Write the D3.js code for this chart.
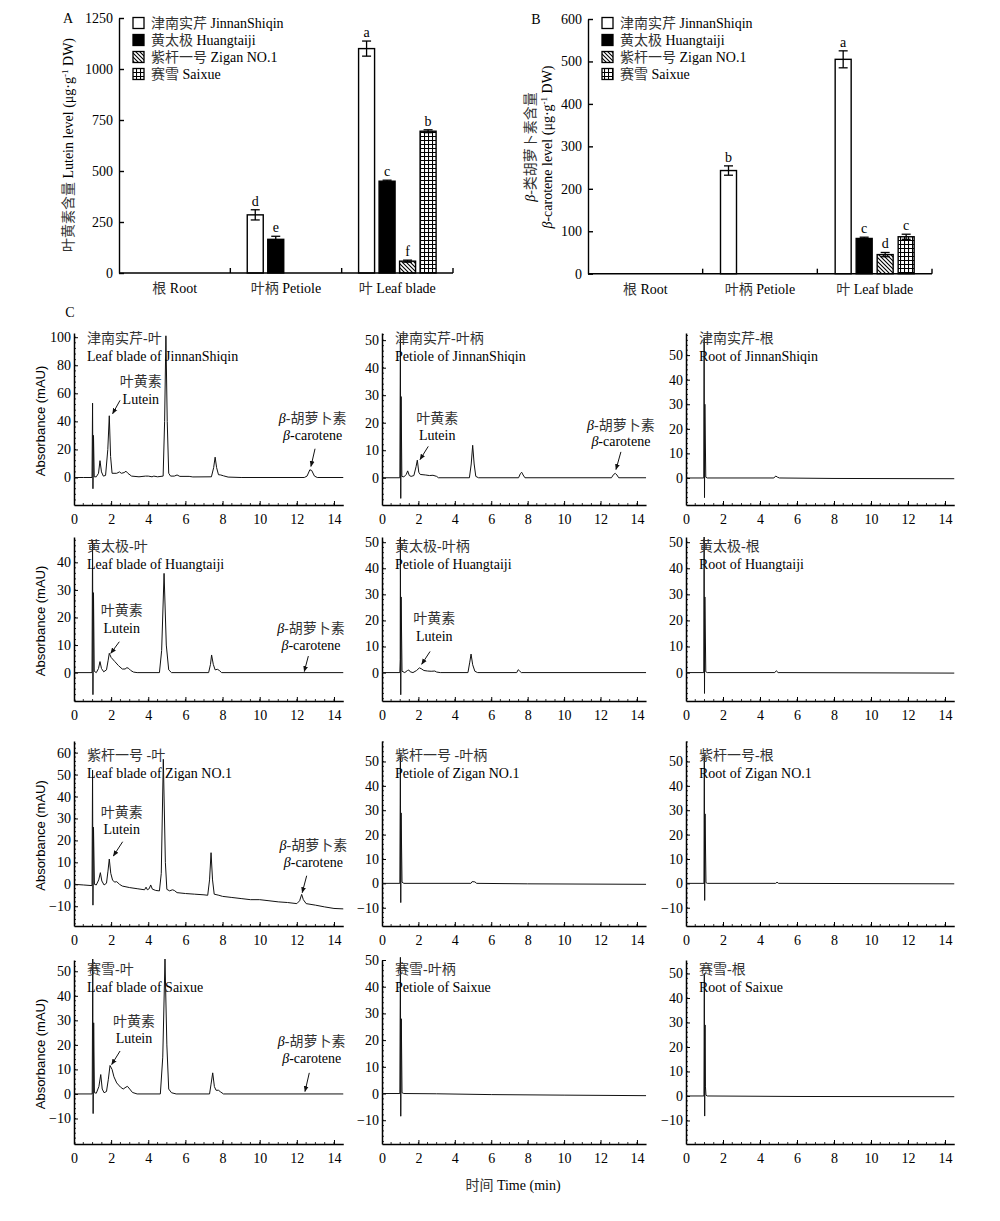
<!DOCTYPE html>
<html><head><meta charset="utf-8">
<script src="https://cdn.jsdelivr.net/npm/d3@7"></script>
<style>body{margin:0;background:#fff} svg{display:block}</style>
</head><body><svg id="c" width="1000" height="1221"></svg>
<script>
// ---------------- DATA ----------------
const catCN = ["根", "叶柄", "叶"];
const catEN = ["Root", "Petiole", "Leaf blade"];
const cvCN = ["津南实芹", "黄太极", "紫杆一号", "赛雪"];
const cvEN = ["JinnanShiqin", "Huangtaiji", "Zigan NO.1", "Saixue"];

// Panel A: lutein (µg/g DW) per cultivar over [Root, Petiole, Leaf blade]
const luteinJinnan = [0, 285, 1100];
const luteinHuang  = [0, 165, 450];
const luteinZigan  = [0, 0, 58];
const luteinSaixue = [0, 0, 695];
const luteinErrJinnan = [0, 25, 37];
const luteinErrHuang  = [0, 15, 5];
const luteinErrZigan  = [0, 0, 5];
const luteinErrSaixue = [0, 0, 7];
const luteinLetters = [["", "d", "a"], ["", "e", "c"], ["", "", "f"], ["", "", "b"]];
const luteinTicks = [0, 250, 500, 750, 1000, 1250];

// Panel B: beta-carotene
const caroteneJinnan = [0, 243, 505];
const caroteneHuang  = [0, 0, 83];
const caroteneZigan  = [0, 0, 45];
const caroteneSaixue = [0, 0, 87];
const caroteneErrJinnan = [0, 11, 20];
const caroteneErrHuang  = [0, 0, 3];
const caroteneErrZigan  = [0, 0, 5];
const caroteneErrSaixue = [0, 0, 6];
const caroteneLetters = [["", "b", "a"], ["", "", "c"], ["", "", "d"], ["", "", "c"]];
const caroteneTicks = [0, 100, 200, 300, 400, 500, 600];

// Panel C: chromatogram traces [time (min), absorbance (mAU)]
const traceJL = [[0,0],[0.5,0],[0.97,0],[1.0,53],[1.02,-8],[1.05,30],[1.09,0.5],[1.2,0.5],[1.32,3],[1.4,12],[1.48,4],[1.58,1],[1.7,1.5],[1.82,20],[1.9,44],[1.97,15],[2.05,3],[2.3,3],[2.45,4],[2.55,3],[2.7,3.5],[2.8,4.5],[2.9,3],[3.1,1],[3.5,0.5],[3.85,1],[4.0,1],[4.2,0.5],[4.3,1],[4.5,0.5],[4.8,1],[4.88,40],[4.95,101],[5.02,40],[5.1,3],[5.2,1],[5.4,1],[5.55,1.8],[5.7,0.8],[6.2,0.8],[6.4,0.4],[7.4,0.5],[7.52,7],[7.6,14.5],[7.68,7],[7.78,2],[7.9,1.8],[8.05,1.2],[8.3,0.3],[9,0],[12.4,0],[12.55,1],[12.7,5.5],[12.8,5],[12.95,1],[13.1,0],[14.5,0]];
const traceJP = [[0,0],[0.98,0],[1.01,52],[1.03,-7.5],[1.05,29.5],[1.09,0.5],[1.2,0.3],[1.33,1.2],[1.41,2.5],[1.5,0.8],[1.6,0.5],[1.75,0.8],[1.87,4],[1.94,6.4],[2.02,2],[2.1,1.2],[2.4,1],[2.6,0.8],[2.8,0.9],[3.0,0.5],[3.1,0],[4.8,0],[4.9,5],[4.98,11.8],[5.06,5],[5.15,0.5],[5.3,0],[7.5,0],[7.6,1.5],[7.67,2],[7.75,1],[7.85,0],[12.6,0],[12.72,1.2],[12.81,1.6],[12.9,1],[13.0,0],[14.5,0]];
const traceJR = [[0,0],[0.96,0],[0.98,57],[1.0,-8],[1.02,30],[1.07,0.3],[1.15,0],[4.75,0],[4.85,0.8],[4.95,0.3],[5.05,0],[8,-0.2],[14.5,-0.3]];
const traceHL = [[0,0],[0.97,0],[1.0,48],[1.02,-8],[1.05,29],[1.09,0.5],[1.2,0],[1.32,1.5],[1.4,4],[1.48,1.5],[1.6,0.3],[1.75,1],[1.84,4.5],[1.9,7],[2.0,5.5],[2.2,4],[2.4,2.5],[2.6,1.3],[2.75,1.3],[2.85,1.8],[2.95,1.5],[3.05,0.8],[3.2,0.2],[3.4,0],[4.6,0],[4.72,8],[4.85,36],[4.97,10],[5.1,1],[5.25,0],[7.25,0],[7.35,3],[7.41,6.4],[7.5,3],[7.6,1],[7.72,1.2],[7.82,0.8],[7.95,0],[14.5,0]];
const traceHP = [[0,0],[0.98,0],[1.0,5],[1.01,52],[1.03,-8.5],[1.05,29],[1.1,0.5],[1.25,0],[1.4,0.8],[1.47,1],[1.55,0.3],[1.7,0],[1.9,0.8],[2.05,1.8],[2.15,1.5],[2.3,0.8],[2.5,0.6],[2.7,0.5],[2.9,0.6],[3.0,0.2],[3.2,0],[4.72,0],[4.82,4],[4.89,7.1],[4.98,3],[5.1,0.5],[5.25,0],[7.4,0],[7.48,1.1],[7.56,0.6],[7.65,0],[14.5,0]];
const traceHR = [[0,0],[0.96,0],[0.98,52],[1.0,-8],[1.02,29],[1.07,0.3],[1.15,0],[4.8,0],[4.88,0.7],[4.98,0],[14.5,-0.2]];
const traceZL = [[0,0],[0.5,-0.3],[0.97,-0.6],[1.0,52],[1.02,-9.5],[1.05,26],[1.1,0],[1.2,-0.3],[1.33,2],[1.42,5.3],[1.5,1.5],[1.62,-0.3],[1.75,0.5],[1.83,6],[1.9,11.5],[1.98,5],[2.08,1.8],[2.2,1],[2.3,1.2],[2.45,0],[2.6,-0.8],[3.0,-1.5],[3.4,-2],[3.8,-2.5],[3.88,-1.3],[3.95,-2.5],[4.05,-2],[4.13,-0.3],[4.22,-2.2],[4.4,-2.8],[4.6,-3],[4.7,5],[4.81,57],[4.92,10],[5.0,-2.3],[5.15,-3],[5.3,-2.5],[5.4,-2.8],[5.55,-3.8],[6.0,-4.2],[6.5,-4.5],[7.0,-4.8],[7.2,-5],[7.3,2],[7.38,14.4],[7.46,2],[7.55,-4.5],[7.7,-4.8],[7.8,-5],[8.0,-5.5],[8.5,-6],[9.0,-6.5],[9.5,-7],[10.0,-7],[10.5,-7.5],[11.0,-8],[11.5,-8.3],[12.0,-8.8],[12.15,-7.5],[12.26,-4.6],[12.35,-7],[12.5,-8.8],[13.0,-9.5],[13.5,-10.3],[14.0,-11],[14.5,-11.2]];
const traceZP = [[0,0],[0.98,0],[1.01,52],[1.03,-7.9],[1.05,28.9],[1.1,0.5],[1.2,0],[4.88,0],[4.95,0.7],[5.1,0.6],[5.2,0],[8,-0.2],[14.5,-0.4]];
const traceZR = [[0,0],[0.97,0],[0.99,52],[1.01,-7],[1.03,28.5],[1.08,0.3],[1.15,0],[4.85,0],[4.92,0.5],[5.0,0],[14.5,-0.2]];
const traceSL = [[0,0],[0.98,0],[1.01,55],[1.03,-8],[1.06,29],[1.1,0.5],[1.2,0.3],[1.34,3],[1.44,7.9],[1.52,2],[1.62,0.5],[1.75,1],[1.85,6],[1.94,11.6],[2.05,10],[2.15,7],[2.3,4.5],[2.5,2.8],[2.65,2],[2.8,2.8],[2.88,3.1],[3.0,2],[3.15,0.6],[3.4,0],[4.65,0],[4.78,15],[4.9,55],[5.0,20],[5.1,2],[5.25,0.5],[5.5,0],[7.3,0],[7.38,4],[7.47,8.6],[7.56,3],[7.65,1.5],[7.78,1.5],[7.9,0.8],[8.05,0],[14.5,0]];
const traceSP = [[0,0],[0.98,0],[1.01,51],[1.03,-8.5],[1.06,28],[1.1,0.3],[1.2,0],[3,-0.1],[6,-0.4],[10,-0.6],[14.5,-0.8]];
const traceSR = [[0,0],[0.97,0],[0.99,50],[1.01,-8.2],[1.03,29],[1.05,4],[1.08,0.3],[1.15,0],[6,-0.2],[14.5,-0.3]];

const chromTitlesCN = [["津南实芹-叶","津南实芹-叶柄","津南实芹-根"],["黄太极-叶","黄太极-叶柄","黄太极-根"],["紫杆一号 -叶","紫杆一号 -叶柄","紫杆一号-根"],["赛雪-叶","赛雪-叶柄","赛雪-根"]];
const chromTitlesEN = [["Leaf blade of JinnanShiqin","Petiole of JinnanShiqin","Root of JinnanShiqin"],["Leaf blade of Huangtaiji","Petiole of Huangtaiji","Root of Huangtaiji"],["Leaf blade of Zigan NO.1","Petiole of Zigan NO.1","Root of Zigan NO.1"],["Leaf blade of  Saixue","Petiole of Saixue","Root of Saixue"]];
const chromYDomains = [[[-19.6,103],[-9.9,52.6],[-11,59]],[[-10.3,49.2],[-10.9,52],[-10.9,52]],[[-19,65.3],[-17.5,58.4],[-17.5,58.4]],[[-20.4,54.6],[-18.9,50],[-19.6,55.5]]];
const chromYTicks = [[[0,20,40,60,80,100],[0,10,20,30,40,50],[0,10,20,30,40,50]],[[0,10,20,30,40],[0,10,20,30,40,50],[0,10,20,30,40,50]],[[-10,0,10,20,30,40,50,60],[-10,0,10,20,30,40,50],[-10,0,10,20,30,40,50]],[[-10,0,10,20,30,40,50],[-10,0,10,20,30,40,50],[-10,0,10,20,30,40,50]]];
const timeTicks = [0, 2, 4, 6, 8, 10, 12, 14];
// annotation anchors in data units: [t, vCN, vEN], arrow [t1,v1,t2,v2]
const luteinAnn = {"0,0":[3.6,68.6,56.2,2.48,55,2.08,45.5],"0,1":[3.03,21.8,15.7,2.54,11.4,2.09,6.6],"1,0":[2.57,22.7,16.1,2.44,11.2,1.98,7],"1,1":[2.87,20.9,14.2,2.64,8.1,2.18,3.2],"2,0":[2.57,33,25,2.62,19.4,2.12,12.9],"3,0":[3.23,29.8,22.7,2.48,17.5,2.03,12]};
const caroteneAnn = {"0,0":[12.85,42.4,30.5,12.98,20.5,12.76,7.9],"0,1":[13.12,19.3,13.2,13.12,9.4,12.85,3],"1,0":[12.76,16.1,10,12.62,6,12.4,0.4],"2,0":[12.89,17.9,10.3,12.53,3.9,12.29,-3.8],"3,0":[12.8,21.6,14.5,12.67,8.6,12.44,1]};

// ---------------- DRAW ----------------
const svg = d3.select("#c");
const SERIF = "'Liberation Serif','Times New Roman','Noto Sans CJK SC',serif";
const SANS = "'Liberation Sans',Arial,sans-serif";
const CNCOL = "#333";
svg.style("font-family", SERIF).style("font-size", "14px");

const defs = svg.append("defs");
const ph = defs.append("pattern").attr("id","hatch").attr("patternUnits","userSpaceOnUse").attr("width",4).attr("height",4);
ph.append("rect").attr("width",4).attr("height",4).attr("fill","#fff");
ph.append("path").attr("d","M0,0L4,4M-1,3L1,5M3,-1L5,1").attr("stroke","#000").attr("stroke-width",1.1);
const pg = defs.append("pattern").attr("id","grid").attr("patternUnits","userSpaceOnUse").attr("width",4).attr("height",4);
pg.append("rect").attr("width",4).attr("height",4).attr("fill","#fff");
pg.append("path").attr("d","M0,0.5H4M0.5,0V4").attr("stroke","#000").attr("stroke-width",1.1);
defs.append("marker").attr("id","arrow").attr("viewBox","0 0 10 10").attr("refX",9).attr("refY",5)
  .attr("markerWidth",6).attr("markerHeight",6).attr("orient","auto")
  .append("path").attr("d","M0,1L10,5L0,9z").attr("fill","#111");

const barFills = ["#fff", "#000", "url(#hatch)", "url(#grid)"];

function mixedText(sel, parts) {
  parts.forEach(p => {
    const t = sel.append("tspan").text(p.t);
    if (p.i) t.attr("font-style", "italic");
    if (p.cn) t.attr("fill", CNCOL);
    if (p.dy) t.attr("dy", p.dy);
    if (p.fs) t.attr("font-size", p.fs);
  });
  return sel;
}

function barChart(o) {
  const g = svg.append("g");
  const x = d3.scaleBand().domain(catEN).range([o.x0, o.x1]);
  const bw = x.bandwidth();
  const xs = d3.scaleBand().domain(d3.range(4)).range([(bw - o.span) / 2, (bw + o.span) / 2]).paddingInner(o.pad);
  const y = d3.scaleLinear().domain([0, o.max]).range([o.yBot, o.yTop]);

  o.series.forEach((vals, si) => {
    vals.forEach((v, ci) => {
      if (v <= 0) return;
      const bx = x(catEN[ci]) + xs(si);
      g.append("rect").attr("x", bx).attr("y", y(v)).attr("width", xs.bandwidth()).attr("height", y(0) - y(v))
        .attr("fill", barFills[si]).attr("stroke", "#000").attr("stroke-width", 1.4);
      const e = o.errs[si][ci];
      const cx = bx + xs.bandwidth() / 2;
      if (e > 0) {
        g.append("line").attr("x1", cx).attr("x2", cx).attr("y1", y(v - e)).attr("y2", y(v + e)).attr("stroke", "#000").attr("stroke-width", 1.3);
        [v - e, v + e].forEach(w => g.append("line").attr("x1", cx - 4.5).attr("x2", cx + 4.5).attr("y1", y(w)).attr("y2", y(w)).attr("stroke", "#000").attr("stroke-width", 1.3));
      }
      const L = o.letters[si][ci];
      if (L) g.append("text").attr("x", cx).attr("y", y(v + e) - 4).attr("text-anchor", "middle").text(L);
    });
  });

  // y axis
  const ya = g.append("g").attr("transform", `translate(${o.x0},0)`)
    .call(d3.axisLeft(y).tickValues(o.ticks).tickFormat(d3.format("d")).tickSize(-5).tickSizeOuter(0).tickPadding(6));
  ya.selectAll("text").style("font-family", SERIF).style("font-size", "14px").attr("fill", "#000");
  ya.selectAll("line,path").attr("stroke", "#000").attr("stroke-width", 1.4);
  // x axis
  g.append("line").attr("x1", o.x0).attr("x2", o.x1).attr("y1", o.yBot).attr("y2", o.yBot).attr("stroke", "#000").attr("stroke-width", 1.6);
  catEN.forEach((c, ci) => {
    const xr = x(c) + bw;
    g.append("line").attr("x1", xr).attr("x2", xr).attr("y1", o.yBot).attr("y2", o.yBot - 5).attr("stroke", "#000").attr("stroke-width", 1.4);
    const t = g.append("text").attr("x", x(c) + bw / 2).attr("y", o.yBot + 20).attr("text-anchor", "middle");
    mixedText(t, [{t: catCN[ci], cn: true}, {t: " " + c}]);
  });
  // legend
  cvEN.forEach((nm, i) => {
    const ly = o.legY + i * 17;
    g.append("rect").attr("x", o.legX).attr("y", ly - 5.5).attr("width", 11).attr("height", 11)
      .attr("fill", barFills[i]).attr("stroke", "#000").attr("stroke-width", 1.3);
    const t = g.append("text").attr("x", o.legX + 18).attr("y", ly + 5);
    mixedText(t, [{t: cvCN[i], cn: true}, {t: " " + nm}]);
  });
  return g;
}

barChart({x0: 119, x1: 453, yTop: 18, yBot: 273, max: 1250, ticks: luteinTicks, span: 77.5, pad: 0.22,
  series: [luteinJinnan, luteinHuang, luteinZigan, luteinSaixue],
  errs: [luteinErrJinnan, luteinErrHuang, luteinErrZigan, luteinErrSaixue],
  letters: luteinLetters, legX: 133, legY: 23});
barChart({x0: 588, x1: 932, yTop: 19, yBot: 273.7, max: 600, ticks: caroteneTicks, span: 79, pad: 0.238,
  series: [caroteneJinnan, caroteneHuang, caroteneZigan, caroteneSaixue],
  errs: [caroteneErrJinnan, caroteneErrHuang, caroteneErrZigan, caroteneErrSaixue],
  letters: caroteneLetters, legX: 602, legY: 23});

// panel letters
svg.append("text").attr("x", 68).attr("y", 23).attr("text-anchor", "middle").text("A");
svg.append("text").attr("x", 536).attr("y", 24).attr("text-anchor", "middle").text("B");
svg.append("text").attr("x", 70).attr("y", 317).attr("text-anchor", "middle").text("C");

// y labels of A and B
mixedText(svg.append("text").attr("transform", "translate(73,145) rotate(-90)").attr("text-anchor", "middle"),
  [{t: "叶黄素含量", cn: true}, {t: " Lutein level (μg·g"}, {t: "-1", dy: -5, fs: "9px"}, {t: " DW)", dy: 5}]);
mixedText(svg.append("text").attr("transform", "translate(535,147) rotate(-90)").attr("text-anchor", "middle"),
  [{t: "β", i: true}, {t: "-类胡萝卜素含量", cn: true}]);
mixedText(svg.append("text").attr("transform", "translate(552,147) rotate(-90)").attr("text-anchor", "middle"),
  [{t: "β", i: true}, {t: "-carotene level (μg·g"}, {t: "-1", dy: -5, fs: "9px"}, {t: " DW)", dy: 5}]);

// ---------------- chromatograms ----------------
const chromTraces = [[traceJL, traceJP, traceJR], [traceHL, traceHP, traceHR], [traceZL, traceZP, traceZR], [traceSL, traceSP, traceSR]];
const colX0 = [74, 382, 686], colK = [18.57, 18.21, 18.5];
const rowTop = [333, 537, 741, 960], rowBot = [505, 701, 926, 1144];
const titleY = [338, 546, 755, 969];

function chrom(r, c) {
  const g = svg.append("g");
  const x0 = colX0[c];
  const x = d3.scaleLinear().domain([0, 14.5]).range([x0, x0 + 14.5 * colK[c]]);
  const y = d3.scaleLinear().domain(chromYDomains[r][c]).range([rowBot[r], rowTop[r]]);
  const ticks = chromYTicks[r][c];
  const step = ticks[1] - ticks[0];
  const dom = chromYDomains[r][c];
  const minor = d3.range(Math.ceil(dom[0] / (step / 5)) * (step / 5), dom[1], step / 5);
  // minor ticks
  g.append("g").selectAll("line").data(minor).join("line")
    .attr("x1", x0).attr("x2", x0 + 2).attr("y1", d => y(d)).attr("y2", d => y(d)).attr("stroke", "#000").attr("stroke-width", 0.8);
  g.append("g").selectAll("line").data(d3.range(0.5, 14.5, 0.5)).join("line")
    .attr("x1", d => x(d)).attr("x2", d => x(d)).attr("y1", rowBot[r]).attr("y2", rowBot[r] - 2).attr("stroke", "#000").attr("stroke-width", 0.8);
  const ya = g.append("g").attr("transform", `translate(${x0},0)`)
    .call(d3.axisLeft(y).tickValues(ticks).tickSize(-4).tickSizeOuter(0).tickPadding(3));
  const xa = g.append("g").attr("transform", `translate(0,${rowBot[r]})`)
    .call(d3.axisBottom(x).tickValues(timeTicks).tickSize(-4).tickSizeOuter(0).tickPadding(9));
  [ya, xa].forEach(a => {
    a.selectAll("text").style("font-family", SERIF).style("font-size", "14px").attr("fill", "#000");
    a.selectAll("line").attr("stroke", "#000").attr("stroke-width", 1);
    a.select("path.domain").attr("stroke", "#000").attr("stroke-width", 1.5);
  });
  // trace
  g.append("path").datum(chromTraces[r][c]).attr("fill", "none").attr("stroke", "#111").attr("stroke-width", 1)
    .attr("stroke-linejoin", "round")
    .attr("d", d3.line().x(d => x(d[0])).y(d => y(d[1])));
  // titles
  g.append("text").attr("x", x0 + 13).attr("y", titleY[r] + 5).attr("fill", CNCOL).text(chromTitlesCN[r][c]);
  g.append("text").attr("x", x0 + 13).attr("y", titleY[r] + 23).text(chromTitlesEN[r][c]);
  // annotations
  const key = r + "," + c;
  const la = luteinAnn[key];
  if (la) {
    g.append("text").attr("x", x(la[0])).attr("y", y(la[1]) + 5).attr("text-anchor", "middle").attr("fill", CNCOL).text("叶黄素");
    g.append("text").attr("x", x(la[0])).attr("y", y(la[2]) + 5).attr("text-anchor", "middle").text("Lutein");
    g.append("line").attr("x1", x(la[3])).attr("y1", y(la[4])).attr("x2", x(la[5])).attr("y2", y(la[6]))
      .attr("stroke", "#111").attr("stroke-width", 1).attr("marker-end", "url(#arrow)");
  }
  const ca = caroteneAnn[key];
  if (ca) {
    mixedText(g.append("text").attr("x", x(ca[0])).attr("y", y(ca[1]) + 5).attr("text-anchor", "middle"),
      [{t: "β", i: true}, {t: "-胡萝卜素", cn: true}]);
    mixedText(g.append("text").attr("x", x(ca[0])).attr("y", y(ca[2]) + 5).attr("text-anchor", "middle"),
      [{t: "β", i: true}, {t: "-carotene"}]);
    g.append("line").attr("x1", x(ca[3])).attr("y1", y(ca[4])).attr("x2", x(ca[5])).attr("y2", y(ca[6]))
      .attr("stroke", "#111").attr("stroke-width", 1).attr("marker-end", "url(#arrow)");
  }
  if (c === 0) {
    svg.append("text").attr("transform", `translate(45,${(rowTop[r] + rowBot[r]) / 2 + 2}) rotate(-90)`)
      .attr("text-anchor", "middle").style("font-family", SANS).style("font-size", "13px").text("Absorbance (mAU)");
  }
}
for (let r = 0; r < 4; r++) for (let c = 0; c < 3; c++) chrom(r, c);

mixedText(svg.append("text").attr("x", 513).attr("y", 1190).attr("text-anchor", "middle"),
  [{t: "时间", cn: true}, {t: " Time (min)"}]);
</script>
</body></html>
